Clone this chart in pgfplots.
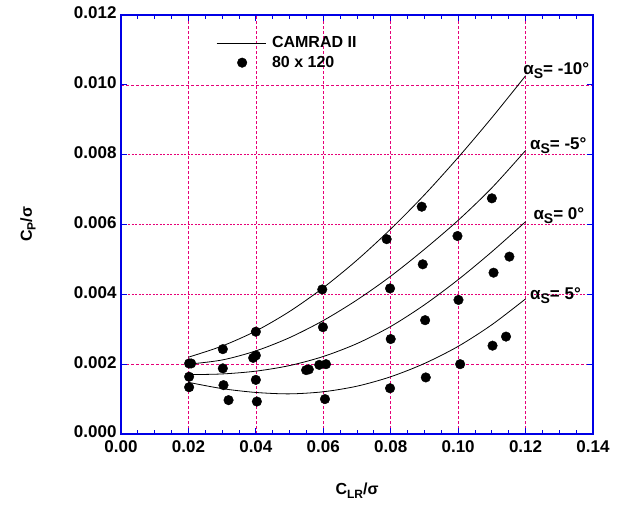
\documentclass[border=0pt]{standalone}
\usepackage{fontspec}
\setmainfont{Liberation Sans}
\usepackage{pgfplots}
\pgfplotsset{compat=1.18}
\definecolor{gridmag}{RGB}{230,0,120}
\definecolor{axblue}{RGB}{0,0,230}
\newcommand{\sub}[2][12]{\raisebox{-0.45ex}{\fontsize{#1}{#1}\selectfont #2}}
\newcommand{\alab}[1]{\fontsize{17}{19}\selectfont\bfseries α\sub[14]{S}= #1°}
\begin{document}
\begin{tikzpicture}
\begin{axis}[
  name=main,
  scale only axis, width=472pt, height=419pt,
  xmin=0, xmax=0.14, ymin=0, ymax=0.012,
  xtick={0,0.02,0.04,0.06,0.08,0.10,0.12,0.14},
  ytick={0,0.002,0.010,0.012},
  extra y ticks={0.004,0.006,0.008},
  extra y tick style={ymajorgrids=true, major grid style={gridmag, line width=1.6pt, dash pattern=on 2pt off 1.5pt}},
  minor x tick num=3, minor y tick num=3,
  xmajorgrids, ymajorgrids,
  major grid style={gridmag, line width=0.6pt, dash pattern=on 3pt off 2pt},
  axis line style={axblue, line width=1.8pt},
  every tick/.style={axblue, line width=0.8pt},
  major tick length=6pt, minor tick length=4pt,
  tick align=inside,
  xtick pos=both, ytick pos=both,
  xticklabel pos=lower, yticklabel pos=left,
  scaled x ticks=false, scaled y ticks=false,
  /pgf/number format/assume math mode=true,
  tick label style={font=\fontsize{17}{19}\selectfont\bfseries},
  xticklabel style={yshift=-3pt, /pgf/number format/.cd, fixed, fixed zerofill, precision=2},
  yticklabel style={xshift=-1pt, yshift=2pt, /pgf/number format/.cd, fixed, fixed zerofill, precision=3},
  xlabel={\fontsize{16}{18}\selectfont\bfseries C\sub{LR}/σ},
  ylabel={\fontsize{16}{18}\selectfont\bfseries C\sub{P}/σ},
  xlabel style={at={(axis description cs:0.5,0)}, anchor=center, yshift=-57pt},
  ylabel style={at={([xshift=-93pt]axis description cs:0,0.5)}, anchor=center},
  legend style={draw=none, fill=none, at={(axis cs:0.0273,0.0115)}, anchor=north west,
    font=\fontsize{16}{18}\selectfont\bfseries, row sep=3pt,
    /tikz/every odd column/.append style={column sep=4pt}},
  legend cell align=left,
]
\addplot[black, line width=0.8pt, smooth,
  legend image code/.code={\draw[black, line width=0.8pt] (0pt,0pt) -- (49pt,0pt);}]
  coordinates {(0.02,0.0022) (0.03,0.00252) (0.04,0.00295) (0.05,0.00351) (0.06,0.00419) (0.07,0.00498) (0.08,0.00587) (0.09,0.00685) (0.10,0.00792) (0.11,0.00906) (0.12,0.01026)};
\addlegendentry{CAMRAD II}
\addplot[only marks, mark=*, mark size=4.8pt, black,
  legend image code/.code={\fill[black] (25.5pt,0pt) circle (4.8pt);}]
  coordinates {(0.0202,0.00202) (0.0208,0.00202) (0.0202,0.00164) (0.0202,0.00134) (0.0302,0.00243) (0.0302,0.00188) (0.0304,0.00140) (0.0319,0.00097) (0.0400,0.00293) (0.0392,0.00218) (0.0400,0.00225) (0.0400,0.00155) (0.0403,0.00093) (0.0549,0.00183) (0.0557,0.00185) (0.0588,0.00198) (0.0608,0.00200) (0.0597,0.00414) (0.0599,0.00306) (0.0605,0.00100) (0.0788,0.00558) (0.0798,0.00417) (0.0800,0.00272) (0.0798,0.00131) (0.0892,0.00651) (0.0895,0.00486) (0.0902,0.00326) (0.0904,0.00162) (0.0998,0.00567) (0.1001,0.00384) (0.1006,0.00200) (0.1100,0.00675) (0.1105,0.00462) (0.1102,0.00253) (0.1142,0.00279) (0.1152,0.00508)};
\addlegendentry{80 x 120}
\addplot[black, line width=0.8pt, smooth, forget plot]
  coordinates {(0.02,0.0020) (0.03,0.00212) (0.04,0.00238) (0.05,0.00276) (0.06,0.00325) (0.07,0.00384) (0.08,0.00452) (0.09,0.00529) (0.10,0.00612) (0.11,0.00705) (0.12,0.00812)};
\addplot[black, line width=0.8pt, smooth, forget plot]
  coordinates {(0.02,0.0017) (0.03,0.00172) (0.04,0.0018) (0.05,0.00196) (0.06,0.00222) (0.07,0.00259) (0.08,0.00308) (0.09,0.0037) (0.10,0.00442) (0.11,0.00522) (0.12,0.00608)};
\addplot[black, line width=0.8pt, smooth, forget plot]
  coordinates {(0.02,0.00148) (0.03,0.0013) (0.04,0.00119) (0.05,0.00115) (0.06,0.00121) (0.07,0.00137) (0.08,0.00164) (0.09,0.00202) (0.10,0.00251) (0.11,0.00313) (0.12,0.00387)};
\node[anchor=west, inner sep=0pt] at (axis cs:0.1193,0.01040) {\alab{-10}};
\node[anchor=west, inner sep=0pt] at (axis cs:0.1213,0.00825) {\alab{-5}};
\node[anchor=west, inner sep=0pt] at (axis cs:0.1223,0.00625) {\alab{0}};
\node[anchor=west, inner sep=0pt] at (axis cs:0.1213,0.00395) {\alab{5}};
\end{axis}
\pgfresetboundingbox
\path ([xshift=-121pt,yshift=-70pt]main.south west) rectangle ([xshift=29pt,yshift=15pt]main.north east);
\end{tikzpicture}
\end{document}
